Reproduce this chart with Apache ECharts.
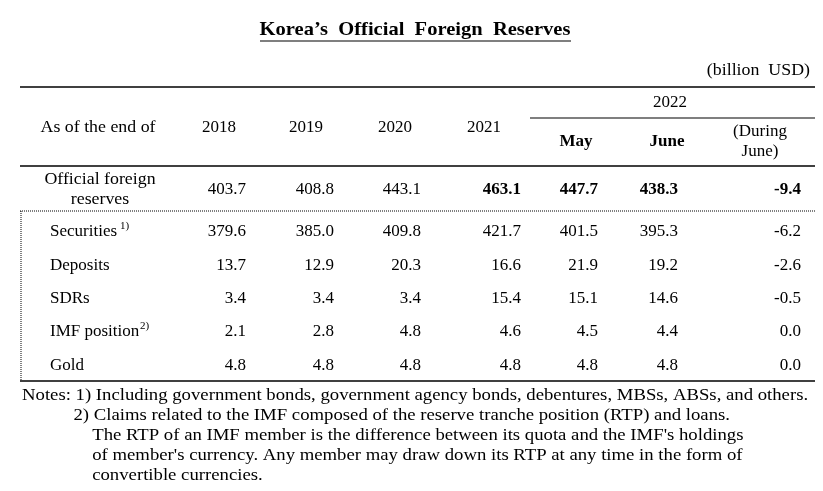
<!DOCTYPE html>
<html>
<head>
<meta charset="utf-8">
<script src="https://cdn.jsdelivr.net/npm/echarts@6/dist/echarts.min.js"></script>
<style>html,body{margin:0;background:#fff}#main{width:823px;height:491px}</style>
</head>
<body>
<div id="main"></div>
<script>
var headers = ['2018', '2019', '2020', '2021', 'May', 'June', '(During\nJune)'];
var rowNames = ['Official foreign\nreserves', 'Securities', 'Deposits', 'SDRs', 'IMF position', 'Gold'];
var rowSup = ['', '1)', '', '', '2)', ''];
var values = [
    ['403.7', '408.8', '443.1', '463.1', '447.7', '438.3', '-9.4'],
    ['379.6', '385.0', '409.8', '421.7', '401.5', '395.3', '-6.2'],
    ['13.7', '12.9', '20.3', '16.6', '21.9', '19.2', '-2.6'],
    ['3.4', '3.4', '3.4', '15.4', '15.1', '14.6', '-0.5'],
    ['2.1', '2.8', '4.8', '4.6', '4.5', '4.4', '0.0'],
    ['4.8', '4.8', '4.8', '4.8', '4.8', '4.8', '0.0']
];
var boldCells = [[0, 3], [0, 4], [0, 5], [0, 6]];
var notes = [
    'Notes: 1) Including government bonds, government agency bonds, debentures, MBSs, ABSs, and others.',
    '           2) Claims related to the IMF composed of the reserve tranche position (RTP) and loans.',
    '               The RTP of an IMF member is the difference between its quota and the IMF\'s holdings',
    '               of member\'s currency. Any member may draw down its RTP at any time in the form of',
    '               convertible currencies.'
];

var FONT = '"Liberation Serif", "DejaVu Serif", serif';
var colCenter = [219, 306, 395, 484, 576, 667, 760];
var colRight = [246, 334, 421, 521, 598, 678, 801];
var rowY = [190, 232, 266, 299, 332, 366];
var g = [];

function txt(x, y, s, o) {
    o = o || {};
    g.push({
        type: 'text', x: x, y: y, scaleX: o.sx || 1,
        style: {
            text: s, fill: '#000', font: (o.bold ? 'bold ' : '') + (o.size || 17) + 'px ' + FONT,
            textAlign: o.align || 'center', textVerticalAlign: 'middle', lineHeight: o.lh || 20
        }
    });
}
function line(x1, y1, x2, y2, w, dash) {
    g.push({
        type: 'line', shape: {x1: x1, y1: y1, x2: x2, y2: y2},
        style: {stroke: '#000', lineWidth: w, lineDash: dash || null}
    });
}

// title
txt(415, 30, 'Korea’s  Official  Foreign  Reserves', {bold: true, size: 19, sx: 1.08});
line(260, 41, 571, 41, 1.2);
txt(810, 71, '(billion  USD)', {align: 'right', sx: 1.05});

// rules
line(20, 87, 815, 87, 1.5);
line(530, 118, 815, 118, 1.2);
line(20, 166, 815, 166, 1.5);
line(20, 211, 815, 211, 1, [1, 1]);
line(21, 211, 21, 381, 1, [1, 1]);
line(20, 381, 815, 381, 1.5);

// header
txt(98, 128, 'As of the end of', {sx: 1.05});
txt(670, 103, '2022');
headers.forEach(function (h, i) {
    var y = i < 4 ? 128 : 142;
    txt(colCenter[i], y, h, {bold: i === 4 || i === 5});
});

// rows
rowNames.forEach(function (n, r) {
    if (r === 0) {
        txt(100, rowY[r], n, {sx: 1.05});
    } else {
        txt(50, rowY[r], n, {align: 'left'});
        if (rowSup[r]) {
            g.push({
                type: 'text', x: 50 + (n === 'Securities' ? 70 : 90), y: rowY[r] - 6,
                style: {
                    text: rowSup[r], fill: '#000', font: '11px ' + FONT,
                    textAlign: 'left', textVerticalAlign: 'middle'
                }
            });
        }
    }
    values[r].forEach(function (v, c) {
        var bold = boldCells.some(function (b) { return b[0] === r && b[1] === c; });
        txt(colRight[c], rowY[r], v, {align: 'right', bold: bold});
    });
});

// notes
notes.forEach(function (s, i) {
    txt(22, 396 + i * 20, s, {align: 'left', size: 16, sx: 1.17});
});

var chart = echarts.init(document.getElementById('main'));
chart.setOption({backgroundColor: '#fff', graphic: {elements: g}});
window.addEventListener('resize', function () { chart.resize(); });
</script>
</body>
</html>
